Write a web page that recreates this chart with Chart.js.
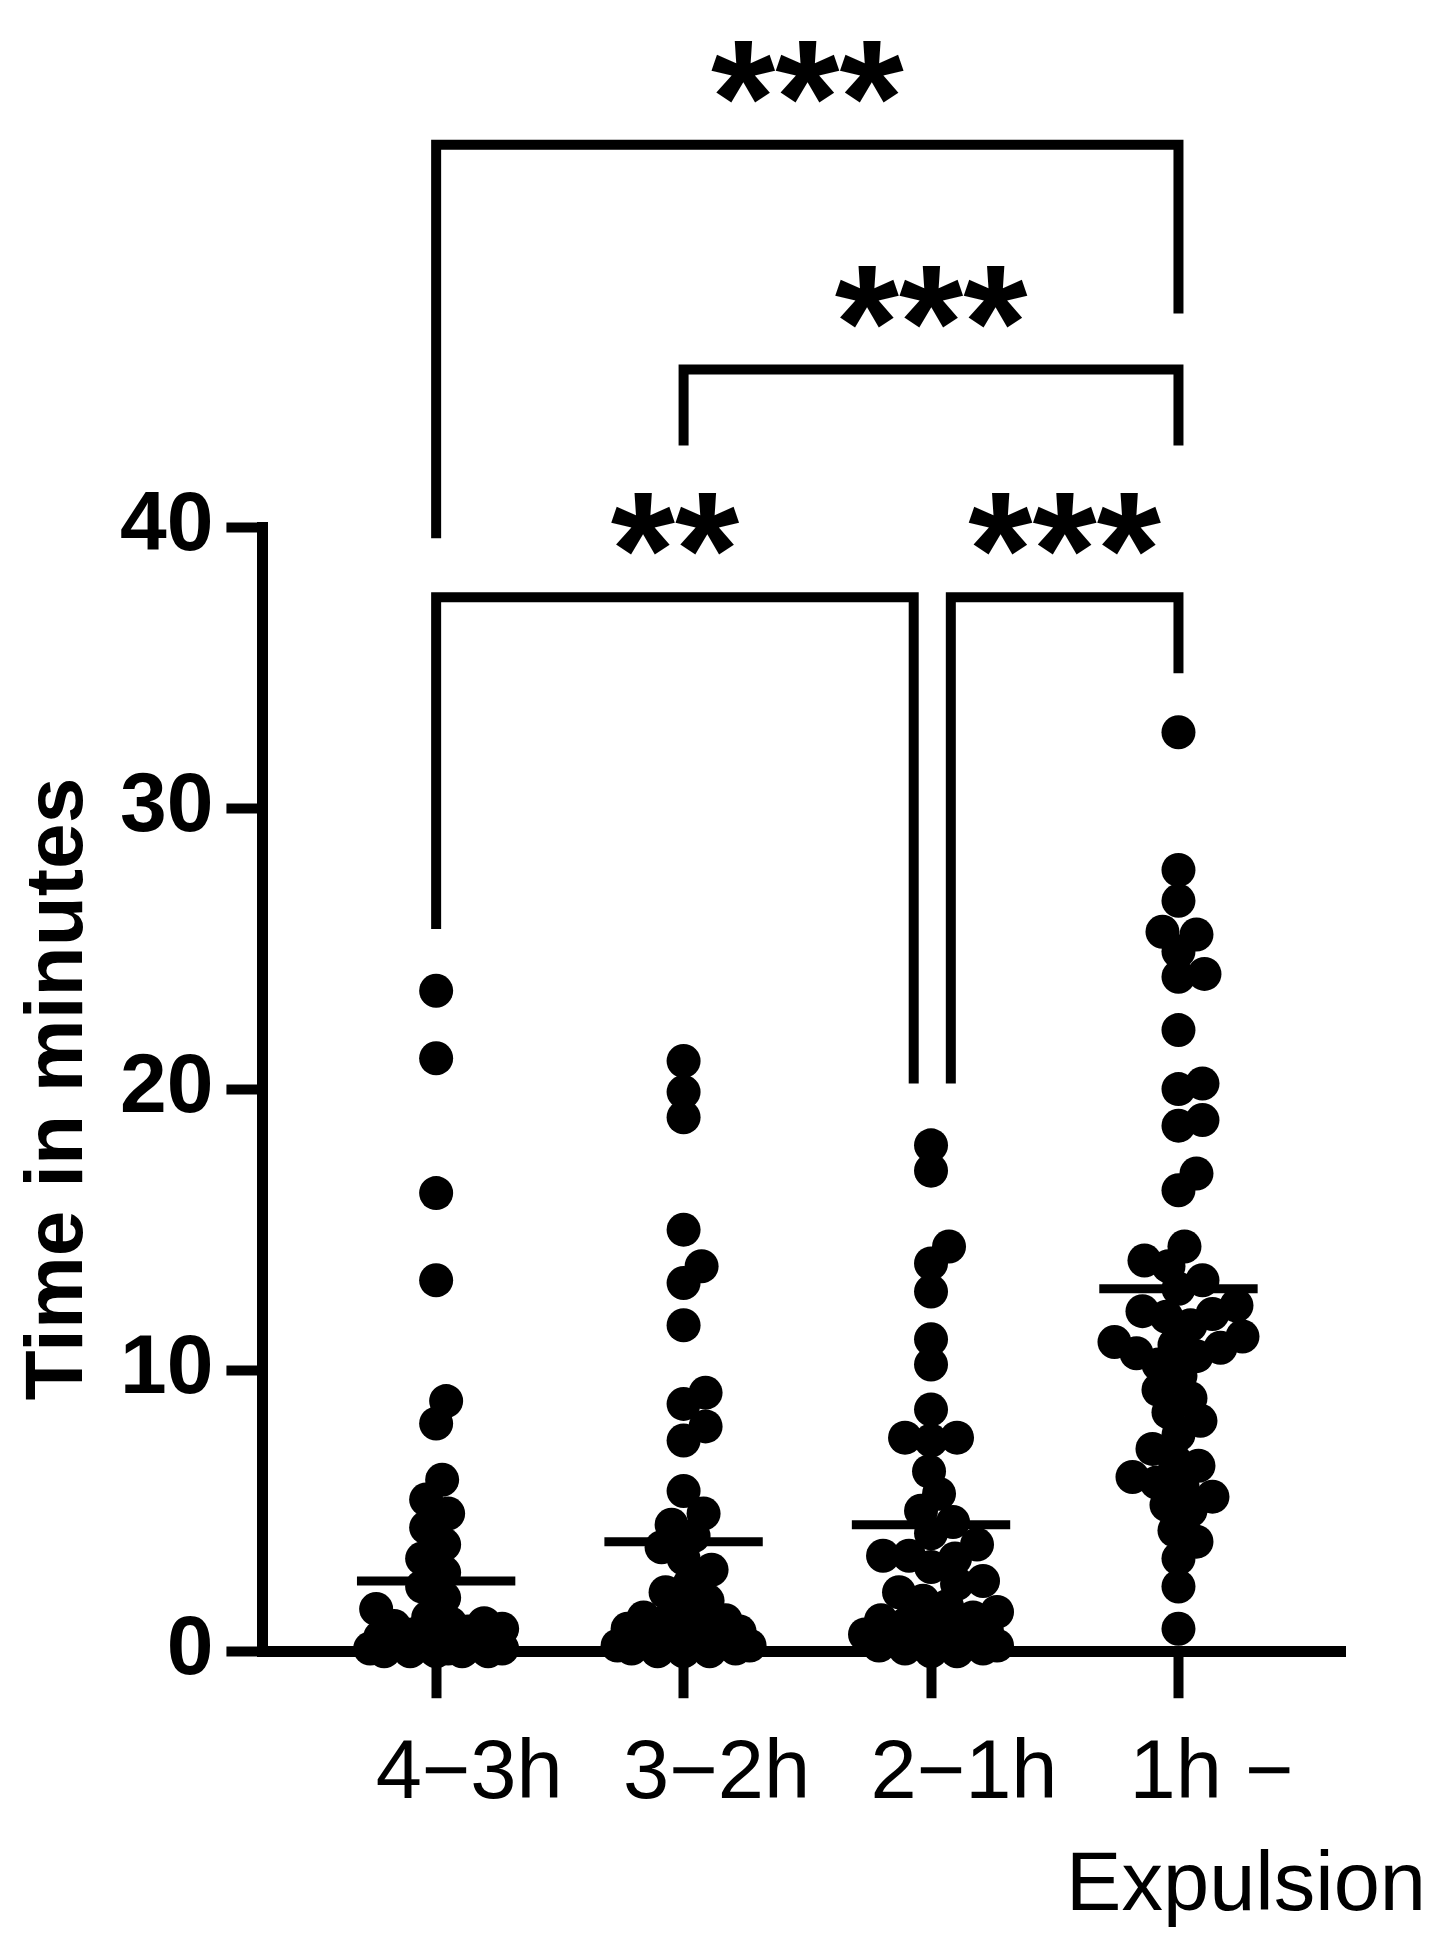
<!DOCTYPE html>
<html>
<head>
<meta charset="utf-8">
<script src="https://cdn.jsdelivr.net/npm/chart.js@4.4.1/dist/chart.umd.min.js"></script>
<style>
  html, body { margin: 0; padding: 0; background: #fff; }
  #wrap { width: 1440px; height: 1942px; }
</style>
</head>
<body>
<div id="wrap"><canvas id="swarmChart" width="1440" height="1942"></canvas></div>
<script>
// category labels (last one wraps onto two lines)
const groupLabels = [["4−3h"], ["3−2h"], ["2−1h"], ["1h −", "   Expulsion"]];
const yTickValues = [0, 10, 20, 30, 40];

// minutes per event
const group1Values = [23.5, 21.1, 16.3, 13.2, 8.9, 8.1, 6.1, 5.4, 4.9, 4.4, 3.8, 3.3, 2.8, 2.3, 1.9, 1.5,
  1.2, 1.0, 1.0, 0.9, 0.8, 0.7, 0.6, 0.5, 0.5, 0.4, 0.3, 0.3, 0.2, 0.2, 0.1, 0.1, 0.1, 0, 0, 0, 0, 0];
const group2Values = [21.0, 19.9, 19.0, 15.0, 13.7, 13.1, 11.6, 9.2, 8.8, 8.0, 7.5, 5.7, 4.9, 4.5, 4.1,
  3.7, 3.3, 2.9, 2.4, 2.1, 1.8, 1.5, 1.2, 1.1, 1.0, 0.9, 0.8, 0.7, 0.6, 0.5, 0.4, 0.3, 0.3, 0.2, 0.2,
  0.1, 0.1, 0, 0, 0];
const group3Values = [18.0, 17.1, 14.4, 13.8, 12.8, 11.1, 10.2, 8.6, 7.6, 7.6, 7.5, 6.4, 5.6, 5.0, 4.6,
  4.2, 3.8, 3.4, 3.4, 3.3, 3.0, 2.5, 2.4, 2.1, 1.8, 1.6, 1.4, 1.2, 1.1, 1.0, 0.9, 0.8, 0.7, 0.6, 0.5,
  0.4, 0.4, 0.3, 0.2, 0.2, 0.1, 0.1, 0, 0];
const group4Values = [32.7, 27.8, 26.7, 25.6, 25.5, 24.9, 24.1, 24.0, 22.1, 20.2, 20.0, 18.9, 18.7,
  17.0, 16.4, 14.4, 13.9, 13.7, 13.2, 12.9, 12.3, 12.1, 12.0, 11.9, 11.6, 11.2, 11.0, 10.9, 10.8, 10.6,
  10.5, 10.2, 9.8, 9.3, 9.0, 8.5, 8.2, 7.7, 7.2, 6.8, 6.6, 6.2, 6.0, 5.9, 5.5, 5.2, 5.0, 4.3, 3.9, 3.3,
  2.3, 0.8];
const groupMeans = [2.5, 3.9, 4.5, 12.9];

// significance brackets: x in group units, y in minutes
const bracketLabels = ["***", "***", "**", "***"];
const bracketFrom = [1, 2, 1, 3.08];
const bracketTo = [4, 4, 2.93, 4];
const bracketBar = [53.6, 45.6, 37.5, 37.5];
const bracketLeftEnd = [39.6, 42.9, 25.7, 20.2];
const bracketRightEnd = [47.6, 42.9, 20.2, 34.8];

const FONT = '"Liberation Sans", Arial, Helvetica, sans-serif';
Chart.defaults.font.family = FONT;
Chart.defaults.color = "#000";

const groups = [group1Values, group2Values, group3Values, group4Values];
const meanHalfWidth = 0.32;

const pointSets = groups.map((vals, gi) => ({
  type: "scatter",
  data: vals.map(v => ({ x: gi + 1, y: v })),
  backgroundColor: "#000",
  borderWidth: 0,
  pointRadius: 17,
  pointHoverRadius: 17,
  clip: false,
  swarm: true
}));

const meanSets = groupMeans.map((m, gi) => ({
  type: "line",
  data: [{ x: gi + 1 - meanHalfWidth, y: m }, { x: gi + 1 + meanHalfWidth, y: m }],
  borderColor: "#000",
  borderWidth: 9,
  pointRadius: 0,
  clip: false
}));

// spread dots sideways so they do not pile up (simple beeswarm)
const swarmPlugin = {
  id: "swarm",
  afterDatasetsUpdate(chart) {
    chart.data.datasets.forEach((ds, di) => {
      if (!ds.swarm) return;
      const pts = chart.getDatasetMeta(di).data.slice().sort((a, b) => b.y - a.y);
      const minDist = ds.pointRadius * 2 * 0.72;
      const placed = [];
      pts.forEach(p => {
        const cx = p.x;
        let bestX = cx, bestGap = -1;
        for (let k = 0; k <= 66; k++) {
          const off = (k % 2 ? 1 : -1) * Math.ceil(k / 2) * 2;
          const px = cx + off;
          let gap = Infinity;
          placed.forEach(q => { gap = Math.min(gap, Math.hypot(q.x - px, q.y - p.y)); });
          if (gap >= minDist) { bestX = px; break; }
          if (gap > bestGap) { bestGap = gap; bestX = px; }
        }
        p.x = bestX;
        placed.push({ x: bestX, y: p.y });
      });
    });
  }
};

const bracketPlugin = {
  id: "brackets",
  afterDraw(chart) {
    const { ctx, scales: { x, y } } = chart;
    ctx.save();
    ctx.strokeStyle = "#000";
    ctx.fillStyle = "#000";
    ctx.lineWidth = 10;
    ctx.lineJoin = "miter";
    ctx.font = "bold 165px " + FONT;
    ctx.textAlign = "center";
    ctx.textBaseline = "alphabetic";
    bracketLabels.forEach((label, i) => {
      const x1 = x.getPixelForValue(bracketFrom[i]);
      const x2 = x.getPixelForValue(bracketTo[i]);
      const yBar = y.getPixelForValue(bracketBar[i]);
      ctx.beginPath();
      ctx.moveTo(x1, y.getPixelForValue(bracketLeftEnd[i]));
      ctx.lineTo(x1, yBar);
      ctx.lineTo(x2, yBar);
      ctx.lineTo(x2, y.getPixelForValue(bracketRightEnd[i]));
      ctx.stroke();
      const m = ctx.measureText(label);
      ctx.fillText(label, (x1 + x2) / 2, yBar - 42 - m.actualBoundingBoxDescent);
    });
    ctx.restore();
  }
};

new Chart(document.getElementById("swarmChart"), {
  type: "scatter",
  data: { datasets: [...pointSets, ...meanSets] },
  options: {
    responsive: false,
    animation: false,
    layout: { padding: { top: 527, right: 95, bottom: -22, left: 0 } },
    plugins: { legend: { display: false }, tooltip: { enabled: false } },
    scales: {
      x: {
        type: "linear",
        min: 0.298,
        max: 4.673,
        afterBuildTicks: axis => { axis.ticks = groupLabels.map((_, i) => ({ value: i + 1 })); },
        ticks: {
          callback: v => groupLabels[v - 1],
          autoSkip: false,
          maxRotation: 0,
          minRotation: 0,
          labelOffset: 33,
          padding: 20,
          color: "#000",
          font: { size: 83, lineHeight: 1.36 }
        },
        grid: { drawOnChartArea: false, tickLength: 47, tickWidth: 10, tickColor: "#000" },
        border: { color: "#000", width: 11 }
      },
      y: {
        type: "linear",
        min: 0,
        max: 40,
        afterBuildTicks: axis => { axis.ticks = yTickValues.map(v => ({ value: v })); },
        ticks: { color: "#000", padding: 13, font: { size: 84, weight: "bold" } },
        grid: { drawOnChartArea: false, tickLength: 36, tickWidth: 10, tickColor: "#000" },
        border: { color: "#000", width: 11 },
        title: {
          display: true,
          text: "Time in minutes",
          color: "#000",
          font: { size: 82, weight: "bold", lineHeight: 1 },
          padding: { top: 18, bottom: 7 }
        }
      }
    }
  },
  plugins: [swarmPlugin, bracketPlugin]
});
</script>
</body>
</html>
